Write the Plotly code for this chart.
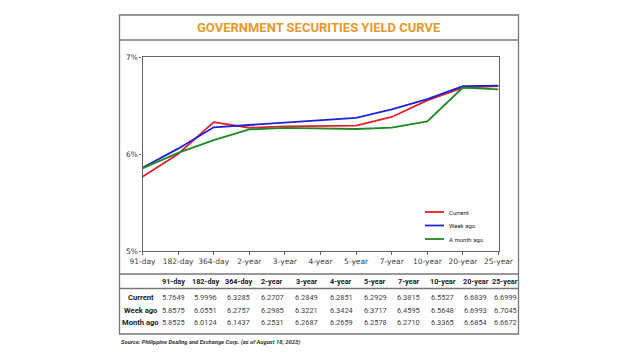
import plotly.graph_objects as go

tenors = ["91-day", "182-day", "364-day", "2-year", "3-year", "4-year", "5-year",
          "7-year", "10-year", "20-year", "25-year"]
current = [5.7649, 5.9996, 6.3285, 6.2707, 6.2849, 6.2851, 6.2929, 6.3815, 6.5527, 6.6839, 6.6999]
week_ago = [5.8575, 6.0551, 6.2757, 6.2985, 6.3221, 6.3424, 6.3717, 6.4595, 6.5648, 6.6993, 6.7045]
month_ago = [5.8525, 6.0124, 6.1437, 6.2531, 6.2687, 6.2659, 6.2578, 6.2710, 6.3365, 6.6854, 6.6672]
series_names = ["Current", "Week ago", "A month ago"]
row_labels = ["Current", "Week ago", "Month ago"]
colors = ["#e3202b", "#1c22d6", "#1f8a24"]
y_ticks = [5, 6, 7]
y_tick_labels = ["5%", "6%", "7%"]
title = "GOVERNMENT SECURITIES YIELD CURVE"
source = "Source: Philippine Dealing and Exchange Corp. (as of August 18, 2023)"

W, H = 640, 360
def px(x):
    return x / W
def py(y):
    return 1 - y / H

fig = go.Figure()
for name, vals, c in zip(series_names, [current, week_ago, month_ago], colors):
    fig.add_trace(go.Scatter(x=list(range(len(tenors))), y=vals, mode="lines", name=name,
                             line=dict(color=c, width=1.8), showlegend=False, hoverinfo="skip"))

fig.update_layout(
    width=W, height=H, margin=dict(l=0, r=0, t=0, b=0, autoexpand=False),
    paper_bgcolor="white", plot_bgcolor="white", showlegend=False,
    xaxis=dict(domain=[px(142.5), px(498.5)], range=[0, 10], automargin=False,
               tickmode="array", tickvals=list(range(len(tenors))), ticktext=tenors,
               showgrid=False, zeroline=False, showline=True, linecolor="#666", linewidth=1.3,
               mirror=True, ticks="outside", ticklen=3, tickcolor="#666",
               tickfont=dict(family="DejaVu Sans", size=7.5, color="#444")),
    yaxis=dict(domain=[py(251), py(57)], range=[5, 7], automargin=False,
               tickmode="array", tickvals=y_ticks, ticktext=y_tick_labels,
               showgrid=False, zeroline=False, showline=True, linecolor="#666", linewidth=1.3,
               mirror=True, ticks="outside", ticklen=2, tickcolor="#666",
               tickfont=dict(family="DejaVu Sans", size=7.5, color="#333")),
)

line_col = "#777"
shapes = [
    dict(type="rect", xref="paper", yref="paper", x0=px(119.5), x1=px(518.5), y0=py(334), y1=py(15),
         line=dict(color=line_col, width=1.3)),
    dict(type="line", xref="paper", yref="paper", x0=px(119.5), x1=px(518.5), y0=py(40), y1=py(40),
         line=dict(color=line_col, width=1.3)),
    dict(type="line", xref="paper", yref="paper", x0=px(119.5), x1=px(518.5), y0=py(274), y1=py(274),
         line=dict(color=line_col, width=1.3)),
    dict(type="line", xref="paper", yref="paper", x0=px(119.5), x1=px(518.5), y0=py(288.5), y1=py(288.5),
         line=dict(color=line_col, width=1.3)),
]
annotations = []
# legend (manual)
leg_y = [212, 225.5, 239]
for name, c, ly in zip(series_names, colors, leg_y):
    shapes.append(dict(type="line", xref="paper", yref="paper", x0=px(425), x1=px(444), y0=py(ly), y1=py(ly),
                       line=dict(color=c, width=1.8)))
    annotations.append(dict(xref="paper", yref="paper", x=px(447), y=py(ly), text=name, showarrow=False,
                            xanchor="left", yanchor="middle",
                            font=dict(family="Roboto", size=6, color="#222")))

annotations.append(dict(xref="paper", yref="paper", x=px(319), y=py(27.5), text="<b>" + title + "</b>",
                        showarrow=False, xanchor="center", yanchor="middle",
                        font=dict(family="Roboto", size=13, color="#e8992e")))

col_x = [173.5, 205, 238, 272, 306.5, 341, 375, 408.5, 442.5, 475.5, 505]
cond = "Roboto"
for t, cx in zip(tenors, col_x):
    annotations.append(dict(xref="paper", yref="paper", x=px(cx), y=py(281.5), text="<b>" + t + "</b>",
                            showarrow=False, xanchor="center", yanchor="middle",
                            font=dict(family=cond, size=7.3, color="#222")))
row_y = [297, 310, 322.5]
for lab, vals, ry in zip(row_labels, [current, week_ago, month_ago], row_y):
    annotations.append(dict(xref="paper", yref="paper", x=px(140.5), y=py(ry), text="<b>" + lab + "</b>",
                            showarrow=False, xanchor="center", yanchor="middle",
                            font=dict(family=cond, size=7.6, color="#222")))
    for v, cx in zip(vals, col_x):
        annotations.append(dict(xref="paper", yref="paper", x=px(cx), y=py(ry), text=f"{v:.4f}",
                                showarrow=False, xanchor="center", yanchor="middle",
                                font=dict(family=cond, size=7.4, color="#444")))

annotations.append(dict(xref="paper", yref="paper", x=px(119), y=py(342), text="<b><i>" + source + "</i></b>",
                        showarrow=False, xanchor="left", yanchor="middle",
                        font=dict(family="Roboto", size=5.8, color="#333")))

fig.update_layout(shapes=shapes, annotations=annotations)
fig.write_html("out.html", config={"displayModeBar": False},
               post_script="document.body.style.margin='0';document.body.style.overflow='hidden';")
